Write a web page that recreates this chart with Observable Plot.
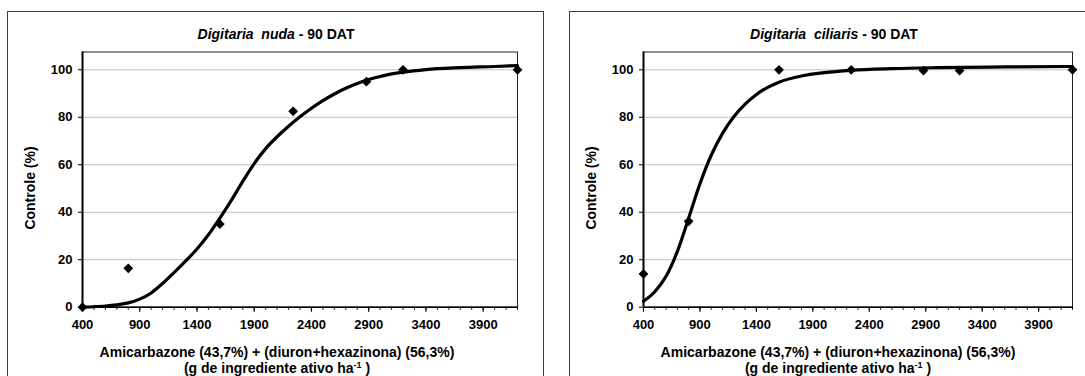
<!DOCTYPE html>
<html>
<head>
<meta charset="utf-8">
<script src="https://cdn.jsdelivr.net/npm/d3@7"></script>
<script src="https://cdn.jsdelivr.net/npm/@observablehq/plot@0.6"></script>
<style>
  html, body { margin: 0; padding: 0; background: #fff; }
  #wrap { position: relative; width: 1085px; height: 376px; overflow: hidden; background: #fff;
          font-family: "Liberation Sans", Arial, sans-serif; font-weight: bold; color: #000; }
  .frame { position: absolute; border: 1px solid #3a3a3a; box-sizing: border-box; }
  .panel { position: absolute; top: 0; }
  .panel svg text { font-weight: bold; }
  .txt { position: absolute; white-space: pre; font-size: 14px; line-height: 16px; transform: translate(-50%, -50%); }
  .ylab { position: absolute; white-space: pre; font-size: 14px; transform: translate(-50%, -50%) rotate(-90deg); }
  sup { font-size: 9px; vertical-align: 5px; line-height: 0; }
</style>
</head>
<body>
<div id="wrap">
  <div class="frame" style="left:7px; top:11px; width:537px; height:380px;"></div>
  <div class="frame" style="left:569px; top:11px; width:540px; height:380px;"></div>
  <div class="panel" id="p1" style="left:0px;"></div>
  <div class="panel" id="p2" style="left:545px;"></div>
</div>
<script>
// ---- data ----
const doses = [400, 800, 1600, 2240, 2880, 3200, 4200];
const nudaObserved = [0, 16.4, 35, 82.5, 95, 100, 100];
const ciliarisObserved = [14, 36.2, 100, 100, 99.7, 99.7, 100];

const nudaCurveDose = [400, 500, 600, 700, 800, 900, 1000, 1100, 1200, 1300, 1400, 1500, 1600, 1700, 1800, 1900, 2000, 2100, 2200, 2300, 2400, 2500, 2600, 2700, 2800, 2900, 3000, 3200, 3400, 3700, 4000, 4200];
const nudaCurveCtrl = [0, 0.2, 0.5, 1.0, 1.8, 3.4, 6.0, 10.0, 14.6, 19.4, 24.5, 30.5, 37.5, 45, 53, 60.5, 66.8, 71.8, 76.2, 80.2, 83.8, 87, 89.8, 92.2, 94.2, 95.9, 97.2, 99, 100.1, 100.9, 101.4, 101.8];

const ciliarisCurveDose = [400, 500, 600, 700, 800, 900, 1000, 1100, 1200, 1300, 1400, 1500, 1600, 1800, 2000, 2240, 2600, 3000, 3600, 4200];
const ciliarisCurveCtrl = [2.5, 6.5, 13, 23.5, 37.5, 52, 64, 73.2, 80.2, 85.5, 89.6, 92.6, 94.8, 97.4, 98.8, 99.8, 100.5, 100.9, 101.2, 101.4];

const xTicks = [400, 900, 1400, 1900, 2400, 2900, 3400, 3900];
const xMinorTicks = d3.range(400, 4201, 100);
const yTicks = [0, 20, 40, 60, 80, 100];

const titles = [
  {species: "Digitaria  nuda", suffix: " - 90 DAT"},
  {species: "Digitaria  ciliaris", suffix: " - 90 DAT"}
];
const xLabelLine1 = "Amicarbazone (43,7%) + (diuron+hexazinona) (56,3%)";
const xLabelLine2a = "(g de ingrediente ativo ha";
const xLabelLine2sup = "-1";
const xLabelLine2b = " )";
const yLabel = "Controle (%)";

// ---- drawing ----
function makePanel(obs, cDose, cCtrl, mLeft, mRight) {
  const pts = doses.map((d, i) => ({dose: d, ctrl: obs[i]}));
  const curve = cDose.map((d, i) => ({dose: d, ctrl: cCtrl[i]}));
  return Plot.plot({
    width: 540,
    height: 376,
    marginLeft: mLeft,
    marginRight: mRight,
    marginTop: 51.5,
    marginBottom: 69.3,
    x: {domain: [400, 4200], label: null},
    y: {domain: [0, 107.5], label: null},
    style: {fontFamily: "'Liberation Sans', Arial, sans-serif", fontWeight: "bold", fontSize: "13px", background: "transparent", color: "#000", overflow: "visible"},
    marks: [
      Plot.gridY(yTicks, {stroke: "#c0c0c0", strokeOpacity: 1, strokeWidth: 1}),
      Plot.frame({stroke: "#222", strokeWidth: 1}),
      Plot.axisX(xMinorTicks, {tickSize: 3, tickFormat: () => "", stroke: "#000", strokeWidth: 1}),
      Plot.axisX(xTicks, {tickSize: 5, tickPadding: 8, tickFormat: d => String(d), stroke: "#000", fill: "#000", strokeWidth: 1.2, fontWeight: "bold"}),
      Plot.axisY(yTicks, {tickSize: 4, tickPadding: 6, tickFormat: d => String(d), stroke: "#000", fill: "#000", fontWeight: "bold"}),
      Plot.ruleX([400], {stroke: "#000", strokeWidth: 2}),
      Plot.ruleY([0], {stroke: "#000", strokeWidth: 1.5}),
      Plot.line(curve, {x: "dose", y: "ctrl", curve: "monotone-x", stroke: "#000", strokeWidth: 3.2, strokeLinecap: "round", strokeLinejoin: "round"}),
      Plot.dot(pts, {x: "dose", y: "ctrl", symbol: "diamond2", r: 4.4, fill: "#000", stroke: "none"})
    ]
  });
}

document.getElementById("p1").appendChild(makePanel(nudaObserved, nudaCurveDose, nudaCurveCtrl, 82, 23));
document.getElementById("p2").appendChild(makePanel(ciliarisObserved, ciliarisCurveDose, ciliarisCurveCtrl, 98, 13));

const wrap = document.getElementById("wrap");
function addText(cls, x, y, html) {
  const d = document.createElement("div");
  d.className = cls;
  d.style.left = x + "px";
  d.style.top = y + "px";
  d.innerHTML = html;
  wrap.appendChild(d);
}
const centers = [{title: 276, xl: 277, yl: 30}, {title: 834, xl: 838, yl: 591}];
titles.forEach((t, i) => {
  const c = centers[i];
  addText("txt", c.title, 34, "<i>" + t.species + "</i>" + t.suffix);
  addText("txt", c.xl, 352, xLabelLine1);
  addText("txt", c.xl, 368, xLabelLine2a + "<sup>" + xLabelLine2sup + "</sup>" + xLabelLine2b);
  addText("ylab", c.yl, 188, yLabel);
});
</script>
</body>
</html>
